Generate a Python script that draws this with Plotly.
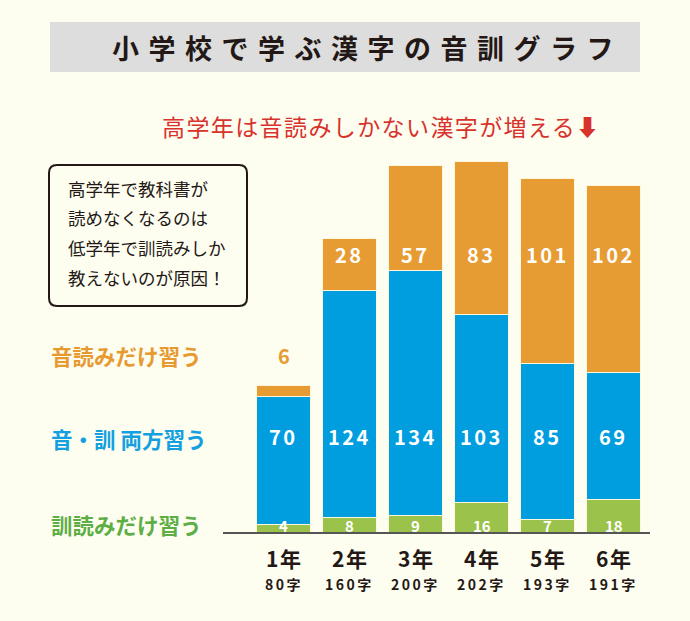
import plotly.graph_objects as go

grades = ["1年", "2年", "3年", "4年", "5年", "6年"]
char_counts = ["80字", "160字", "200字", "202字", "193字", "191字"]
kun_only = [4, 8, 9, 16, 7, 18]
both = [70, 124, 134, 103, 85, 69]
on_only = [6, 28, 57, 83, 101, 102]

title_text = "小学校で学ぶ漢字の音訓グラフ"
subtitle_text = "高学年は音読みしかない漢字が増える⬇"
note_lines = ["高学年で教科書が", "読めなくなるのは", "低学年で訓読みしか", "教えないのが原因！"]
legend_on = "音読みだけ習う"
legend_both = "音・訓 両方習う"
legend_kun = "訓読みだけ習う"

BG = "#FDFDF0"
ORANGE = "#E69C32"
BLUE = "#009EDF"
GREEN = "#9BC24A"
DARK = "#231815"
FONT = "Noto Sans CJK JP"

W_PX, H_PX = 690, 621
L, R, T, B = 223, 650, 129, 532
PW, PH = R - L, B - T


def px(x):
    return (x - L) / PW


def py(y):
    return (B - y) / PH


xs = list(range(len(grades)))
fig = go.Figure()
line = dict(color="#FFF6DC", width=1)
fig.add_bar(x=xs, y=kun_only, marker=dict(color=GREEN, line=line), name=legend_kun)
fig.add_bar(x=xs, y=both, marker=dict(color=BLUE, line=line), name=legend_both)
fig.add_bar(x=xs, y=on_only, marker=dict(color=ORANGE, line=line), name=legend_on)

ann = []
ann.append(dict(x=px(367), y=py(47), xref="paper", yref="paper",
                text="<b><span style='letter-spacing:9.5px'>" + title_text + "</span></b>",
                showarrow=False, font=dict(family=FONT, size=27, color=DARK),
                xanchor="center", yanchor="middle"))
ann.append(dict(x=px(381), y=py(126), xref="paper", yref="paper",
                text="<span style='letter-spacing:1.4px'>" + subtitle_text + "</span>", showarrow=False,
                font=dict(family=FONT, size=23, color="#D8322C"),
                xanchor="center", yanchor="middle"))
note_y = [188, 217, 247, 277]
for t, yy in zip(note_lines, note_y):
    ann.append(dict(x=px(66), y=py(yy), xref="paper", yref="paper", text=t,
                    showarrow=False, font=dict(family=FONT, size=17.5, color=DARK),
                    xanchor="left", yanchor="middle"))
for t, yy, c in [(legend_on, 355, "#E69A30"), (legend_both, 438, "#12A0E0"), (legend_kun, 524, "#5DAE45")]:
    ann.append(dict(x=px(49), y=py(yy), xref="paper", yref="paper", text="<b>" + t + "</b>",
                    showarrow=False, font=dict(family=FONT, size=21.5, color=c),
                    xanchor="left", yanchor="middle"))

for i in xs:
    if i == 0:
        ann.append(dict(x=i, y=py(355), xref="x", yref="paper", text="<b>%d</b>" % on_only[i],
                        showarrow=False, font=dict(family=FONT, size=20, color="#E69A30"),
                        xanchor="center", yanchor="middle"))
    else:
        ann.append(dict(x=i, y=py(254), xref="x", yref="paper",
                        text="<b><span style='letter-spacing:2.5px'>%d</span></b>" % on_only[i],
                        showarrow=False, font=dict(family=FONT, size=20, color="white"),
                        xanchor="center", yanchor="middle"))
    ann.append(dict(x=i, y=py(436), xref="x", yref="paper",
                    text="<b><span style='letter-spacing:2.5px'>%d</span></b>" % both[i],
                    showarrow=False, font=dict(family=FONT, size=20, color="white"),
                    xanchor="center", yanchor="middle"))
    ann.append(dict(x=i, y=py(525), xref="x", yref="paper", text="<b>%d</b>" % kun_only[i],
                    showarrow=False, font=dict(family=FONT, size=15, color="white"),
                    xanchor="center", yanchor="middle"))
    ann.append(dict(x=i, y=py(558), xref="x", yref="paper",
                    text="<b><span style='letter-spacing:1.5px'>" + grades[i] + "</span></b>",
                    showarrow=False, font=dict(family=FONT, size=21, color=DARK),
                    xanchor="center", yanchor="middle"))
    ann.append(dict(x=i, y=py(584), xref="x", yref="paper",
                    text="<b><span style='letter-spacing:2.5px'>" + char_counts[i] + "</span></b>",
                    showarrow=False, font=dict(family=FONT, size=14, color=DARK),
                    xanchor="center", yanchor="middle"))

shapes = [
    dict(type="rect", xref="paper", yref="paper", x0=px(50), x1=px(640), y0=py(22), y1=py(72),
         fillcolor="#DCDDDC", line=dict(width=0), layer="below"),
    dict(type="path", xref="paper", yref="paper", layer="above",
         path=(f"M {px(57)},{py(165)} L {px(239)},{py(165)} Q {px(247)},{py(165)} {px(247)},{py(173)} "
               f"L {px(247)},{py(298)} Q {px(247)},{py(306)} {px(239)},{py(306)} "
               f"L {px(57)},{py(306)} Q {px(49)},{py(306)} {px(49)},{py(298)} "
               f"L {px(49)},{py(173)} Q {px(49)},{py(165)} {px(57)},{py(165)} Z"),
         line=dict(color=DARK, width=2), fillcolor="rgba(0,0,0,0)"),
]

fig.update_layout(
    width=W_PX, height=H_PX, barmode="stack", bargap=0.17,
    paper_bgcolor=BG, plot_bgcolor=BG, showlegend=False,
    margin=dict(l=L, r=W_PX - R, t=T, b=H_PX - B, pad=0),
    xaxis=dict(range=[-0.917, 5.553], showticklabels=False, ticks="", showgrid=False,
               zeroline=False, showline=True, linecolor="#555555", linewidth=2, fixedrange=True),
    yaxis=dict(range=[0, 220], visible=False, fixedrange=True),
    annotations=ann, shapes=shapes,
)
fig.write_html("out.html", config={"displayModeBar": False},
               post_script="document.body.style.margin='0';document.body.style.background='" + BG + "';")
